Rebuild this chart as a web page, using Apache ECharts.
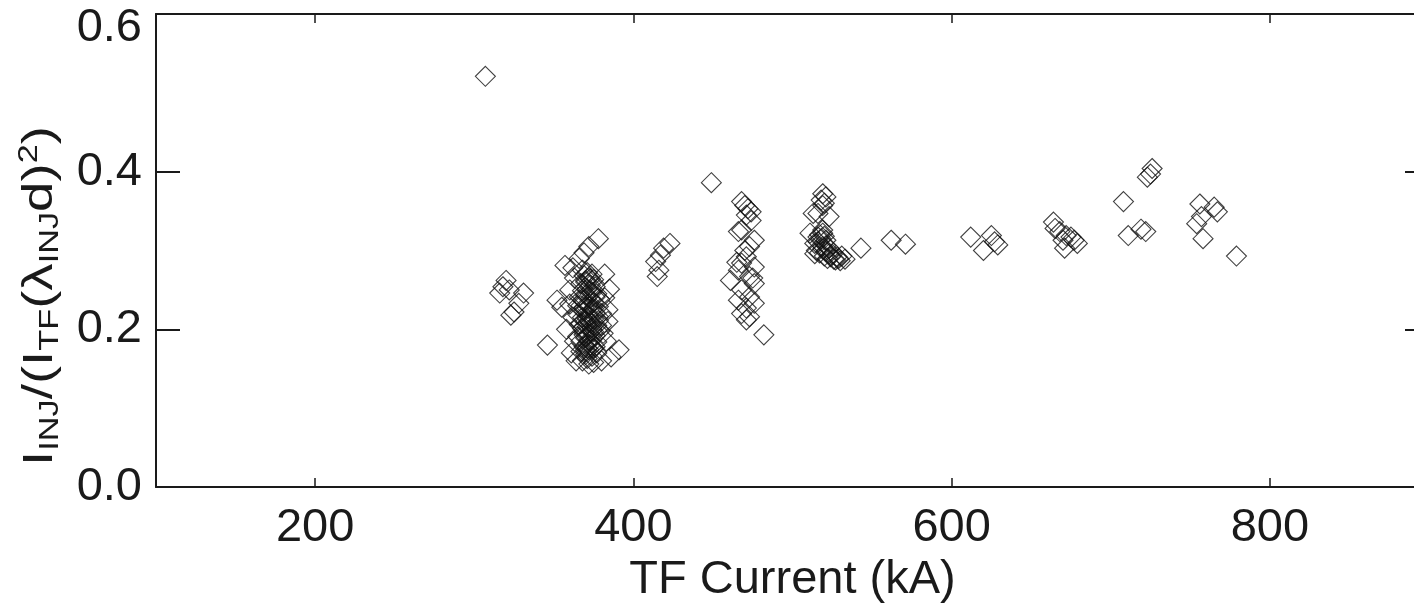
<!DOCTYPE html>
<html>
<head>
<meta charset="utf-8">
<script src="https://cdn.jsdelivr.net/npm/echarts@6/dist/echarts.min.js"></script>
<style>
  html, body { margin: 0; padding: 0; background: #fff; }
</style>
</head>
<body>
<div id="chart" style="width: 1414px; height: 608px"></div>
<script>
// TF current (kA) of each shot
const tfCurrent = [
  307,
  320, 318, 316, 322, 331, 328, 325, 323,
  346,
  378, 372, 369, 366, 357, 362,
  368, 371, 374, 369, 372, 375, 370, 367, 373, 376, 371, 368, 374, 377, 370, 366,
  373, 379, 369, 375, 372, 367, 378, 371, 374, 369, 376, 380, 365, 372, 368, 375,
  378, 370, 373, 366, 377, 371, 368, 374, 379, 369, 372, 376, 365, 370, 374, 367,
  377, 371, 373, 369, 375, 372, 367, 377, 370, 374, 371, 368, 375, 372,
  370, 373, 368, 375, 371, 374, 369, 372, 376, 370, 373, 376, 369, 372, 375, 371,
  367, 378, 365, 380,
  352, 355, 360, 362, 363, 361, 358, 385, 382, 384, 381, 383, 386, 391, 380, 382,
  384, 363, 360, 364,
  423, 419, 417, 414, 416, 415,
  449,
  468, 470, 472, 474, 471, 474, 466, 468, 476, 473, 471, 468, 476, 466, 473, 461,
  476, 468, 473, 466, 476, 471, 468, 473, 471, 470, 465, 475,
  482,
  519, 521, 518, 520, 519, 513, 516, 523, 511, 519, 516, 521, 514, 519,
  515, 517, 519, 521, 523, 520, 522, 524, 526, 525, 527, 528, 516, 518, 520, 519,
  521, 523, 517, 514, 529, 530, 531, 533,
  543, 562, 571,
  612, 620, 625, 627, 629,
  664, 665, 668, 670, 672, 675, 677, 679, 671,
  708, 711, 719, 722, 723, 726, 725,
  756, 754, 757, 765, 767, 758, 779
];
// I_INJ / (I_TF (lambda_INJ d)^2)
const injRatio = [
  0.521,
  0.262, 0.254, 0.246, 0.250, 0.246, 0.233, 0.222, 0.218,
  0.180,
  0.315, 0.305, 0.297, 0.290, 0.281, 0.278,
  0.275, 0.272, 0.270, 0.268, 0.265, 0.263, 0.260, 0.258, 0.256, 0.254, 0.251, 0.249, 0.247, 0.245, 0.243, 0.241,
  0.239, 0.238, 0.236, 0.234, 0.232, 0.230, 0.229, 0.227, 0.225, 0.223, 0.221, 0.220, 0.219, 0.217, 0.215, 0.213,
  0.211, 0.210, 0.208, 0.206, 0.205, 0.203, 0.201, 0.199, 0.198, 0.196, 0.194, 0.192, 0.191, 0.189, 0.187, 0.185,
  0.184, 0.182, 0.180, 0.178, 0.176, 0.174, 0.172, 0.170, 0.168, 0.166, 0.163, 0.160, 0.158, 0.156,
  0.262, 0.249, 0.237, 0.226, 0.214, 0.202, 0.193, 0.186, 0.178, 0.171, 0.264, 0.241, 0.228, 0.211, 0.197, 0.176,
  0.207, 0.216, 0.230, 0.205,
  0.237, 0.228, 0.250, 0.215, 0.185, 0.170, 0.200, 0.251, 0.240, 0.225, 0.195, 0.185, 0.165, 0.174, 0.160, 0.270,
  0.210, 0.265, 0.232, 0.160,
  0.309, 0.303, 0.294, 0.286, 0.275, 0.267,
  0.386,
  0.362, 0.357, 0.353, 0.349, 0.345, 0.338, 0.324, 0.326, 0.313, 0.305, 0.292, 0.284, 0.279, 0.275, 0.267, 0.262,
  0.258, 0.250, 0.241, 0.237, 0.233, 0.227, 0.220, 0.216, 0.212, 0.300, 0.285, 0.265,
  0.193,
  0.372, 0.368, 0.364, 0.360, 0.357, 0.347, 0.347, 0.343, 0.322, 0.326, 0.317, 0.313, 0.309, 0.305,
  0.300, 0.297, 0.302, 0.299, 0.296, 0.293, 0.290, 0.292, 0.289, 0.295, 0.288, 0.292, 0.311, 0.315, 0.318, 0.322,
  0.306, 0.303, 0.320, 0.296, 0.290, 0.287, 0.293, 0.289,
  0.303, 0.313, 0.308,
  0.317, 0.300, 0.319, 0.311, 0.307,
  0.336, 0.328, 0.324, 0.313, 0.319, 0.317, 0.313, 0.309, 0.303,
  0.362, 0.319, 0.327, 0.324, 0.393, 0.404, 0.397,
  0.359, 0.334, 0.343, 0.355, 0.349, 0.315, 0.293
];
const xTicks = [200, 400, 600, 800];

const chart = echarts.init(document.getElementById('chart'));
const font = 'Liberation Sans, Arial, Helvetica, sans-serif';
const ink = '#1a1a1a';

const points = tfCurrent.map((x, i) => [x, injRatio[i]]);

const xCommon = {
  type: 'value',
  min: 100,
  max: 900,
  splitLine: { show: false },
  axisLine: { onZero: false, lineStyle: { color: ink, width: 2 } },
  axisTick: { inside: true, length: 9, customValues: xTicks, lineStyle: { color: ink, width: 1.5 } }
};
const yCommon = {
  type: 'value',
  min: 0,
  max: 0.6,
  interval: 0.2,
  splitLine: { show: false },
  axisLine: { onZero: false, lineStyle: { color: ink, width: 2 } },
  axisTick: { inside: true, length: 24, lineStyle: { color: ink, width: 2 } }
};

chart.setOption({
  animation: false,
  backgroundColor: '#fff',
  // the plot box runs past the right edge of the picture (x = 900 is cut off)
  grid: { left: 156, top: 14, width: 1273, height: 473, outerBoundsMode: 'none' },
  // y title is stretched along its baseline like in the original plot
  graphic: [
    {
      type: 'text',
      x: 40,
      y: 296,
      rotation: Math.PI / 2,
      scaleX: 1.27,
      silent: true,
      style: {
        text: '{m|I}{s|INJ}{m|/(I}{s|TF}{m|(λ}{s|INJ}{m|d)}{p|2}{m|)}',
        align: 'center',
        verticalAlign: 'middle',
        fill: ink,
        rich: {
          m: { fontFamily: font, fontSize: 43, fill: ink, lineHeight: 48, verticalAlign: 'middle' },
          s: { fontFamily: font, fontSize: 27, fill: ink, lineHeight: 24, verticalAlign: 'bottom' },
          p: { fontFamily: font, fontSize: 27, fill: ink, lineHeight: 24, verticalAlign: 'top' }
        }
      }
    }
  ],
  xAxis: [
    Object.assign({}, xCommon, {
      position: 'bottom',
      name: 'TF Current (kA)',
      nameLocation: 'middle',
      nameGap: 66,
      nameTextStyle: { fontFamily: font, fontSize: 47, color: ink },
      axisLabel: {
        customValues: xTicks,
        margin: 18,
        fontFamily: font,
        fontSize: 47,
        color: ink
      }
    }),
    Object.assign({}, xCommon, { position: 'top', axisLabel: { show: false } })
  ],
  yAxis: [
    Object.assign({}, yCommon, {
      position: 'left',
      axisLabel: {
        margin: 14,
        fontFamily: font,
        fontSize: 47,
        color: ink,
        formatter: v => (v >= 0.6 ? '{hi|0.6}' : v.toFixed(1)),
        rich: {
          hi: { fontFamily: font, fontSize: 47, color: ink, padding: [28, 0, 0, 0] }
        }
      }
    }),
    Object.assign({}, yCommon, { position: 'right', axisLabel: { show: false } })
  ],
  series: [
    {
      type: 'scatter',
      data: points,
      symbol: 'diamond',
      symbolSize: 20,
      itemStyle: { color: 'rgba(0,0,0,0)', borderColor: '#111', borderWidth: 1.1 },
      emphasis: { disabled: true }
    }
  ]
});
</script>
</body>
</html>
